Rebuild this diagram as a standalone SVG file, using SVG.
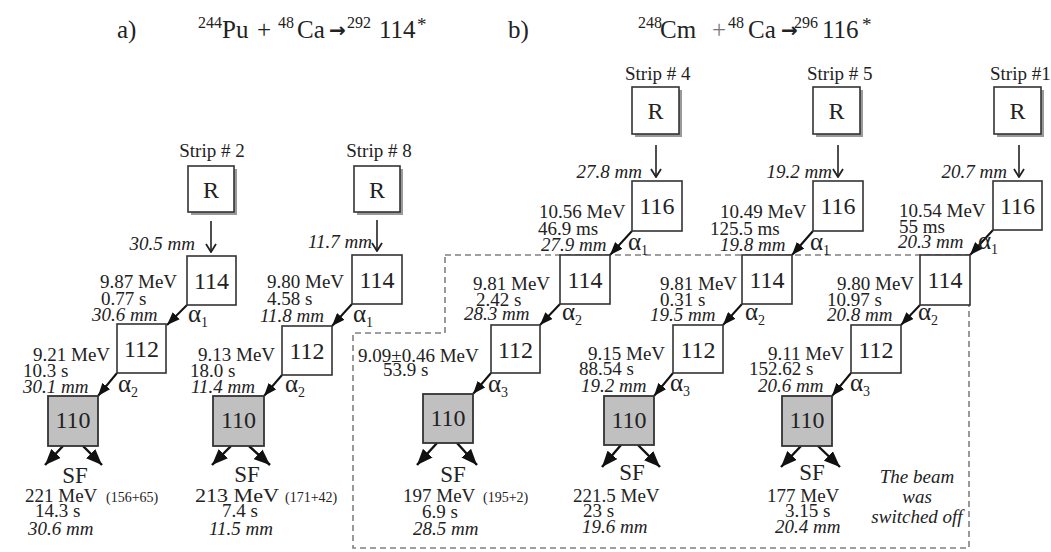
<svg xmlns="http://www.w3.org/2000/svg" width="1051" height="552" viewBox="0 0 1051 552">
<defs>
<style>
text{font-family:"Liberation Serif","Times New Roman",serif;fill:#222}
.t{font-size:19px}
.i{font-size:19px;font-style:italic}
.sm{font-size:14px}
.n{font-size:24px;text-anchor:middle}
.sf{font-size:23px;text-anchor:middle}
.ttl{font-size:25px}
.sup{font-size:16px}
.arr{font-family:"DejaVu Sans",sans-serif;font-size:20px;font-weight:bold}
.al{font-size:25px}
.sub{font-size:14px}
.box{fill:#fff;stroke:#333;stroke-width:1.6}
.gbox{fill:#c0c0c0;stroke:#333;stroke-width:1.8}
.shadow{fill:#9a9a9a}
.va{stroke:#222;stroke-width:1.6;fill:none;marker-end:url(#chev)}
.da{stroke:#111;stroke-width:2;fill:none;marker-end:url(#ah)}
.sfa{stroke:#111;stroke-width:2.4;fill:none;marker-end:url(#ah2)}
.dash{fill:none;stroke:#808080;stroke-width:1.6;stroke-dasharray:6 4}
.c{text-anchor:middle}
</style>
<marker id="chev" viewBox="0 0 10 12" refX="9" refY="6" markerWidth="10" markerHeight="12" orient="auto" markerUnits="userSpaceOnUse"><path d="M1,1 L9,6 L1,11" fill="none" stroke="#222" stroke-width="1.8"/></marker>
<marker id="ah" viewBox="0 0 13 10" refX="13" refY="5" markerWidth="13" markerHeight="10" orient="auto" markerUnits="userSpaceOnUse"><path d="M0,0 L13,5 L0,10 Z" fill="#111"/></marker>
<marker id="ah2" viewBox="0 0 16 13" refX="16" refY="6.5" markerWidth="16" markerHeight="13" orient="auto" markerUnits="userSpaceOnUse"><path d="M0,0 L16,6.5 L0,13 Z" fill="#111"/></marker>
</defs>
<rect width="1051" height="552" fill="#fff"/>

<g id="titles">
<text class="ttl" x="117" y="38">a)</text>
<text class="ttl" y="38"><tspan class="sup" x="198" y="28">244</tspan><tspan x="222" y="38">Pu</tspan><tspan x="257" y="38">+</tspan><tspan class="sup" x="278" y="28">48</tspan><tspan x="297" y="38">Ca</tspan><tspan class="arr" x="329" y="37">→</tspan><tspan class="sup" x="347" y="28">292</tspan><tspan x="379" y="38">114</tspan><tspan x="417" y="31" style="font-size:19px">*</tspan></text>
<text class="ttl" x="508" y="38">b)</text>
<text class="ttl" y="38"><tspan class="sup" x="638" y="28">248</tspan><tspan x="660" y="38">Cm</tspan><tspan x="712" y="38" style="fill:#777">+</tspan><tspan class="sup" x="728" y="28">48</tspan><tspan x="748" y="38">Ca</tspan><tspan class="arr" x="781" y="37">→</tspan><tspan class="sup" x="794" y="28">296</tspan><tspan x="822" y="38">116</tspan><tspan x="862" y="31" style="font-size:19px">*</tspan></text>
</g>

<g id="beam-off-region">
<path class="dash" d="M445,255 H969 V548 H353 V333 H445 Z"/>
<text class="i c" x="917" y="483">The beam</text>
<text class="i c" x="917" y="503">was</text>
<text class="i c" x="917" y="523">switched off</text>
</g>

<g id="connectors">
<!-- chain a1 -->
<line class="va" x1="211" y1="221" x2="211" y2="252"/>
<line class="da" x1="187" y1="305" x2="167" y2="325"/>
<line class="da" x1="117" y1="373" x2="98" y2="396"/>
<line class="sfa" x1="63" y1="446" x2="45" y2="465"/>
<line class="sfa" x1="83" y1="446" x2="102" y2="465"/>
<!-- chain a2 -->
<line class="va" x1="377" y1="220" x2="377" y2="251"/>
<line class="da" x1="352" y1="304" x2="332" y2="326"/>
<line class="da" x1="282" y1="375" x2="264" y2="396"/>
<line class="sfa" x1="231" y1="446" x2="212" y2="465"/>
<line class="sfa" x1="249" y1="446" x2="270" y2="465"/>
<!-- chain b1 -->
<line class="va" x1="656" y1="145" x2="656" y2="177"/>
<line class="da" x1="632" y1="231" x2="610" y2="255"/>
<line class="da" x1="560" y1="304" x2="540" y2="325"/>
<line class="da" x1="491" y1="373" x2="473" y2="394"/>
<line class="sfa" x1="437" y1="443" x2="417" y2="465"/>
<line class="sfa" x1="457" y1="443" x2="477" y2="465"/>
<!-- chain b2 -->
<line class="va" x1="838" y1="145" x2="838" y2="177"/>
<line class="da" x1="813" y1="231" x2="792" y2="255"/>
<line class="da" x1="742" y1="304" x2="723" y2="325"/>
<line class="da" x1="673" y1="373" x2="654" y2="396"/>
<line class="sfa" x1="621" y1="445" x2="602" y2="467"/>
<line class="sfa" x1="638" y1="445" x2="660" y2="467"/>
<!-- chain b3 -->
<line class="va" x1="1019" y1="145" x2="1019" y2="177"/>
<line class="da" x1="993" y1="230" x2="970" y2="255"/>
<line class="da" x1="920" y1="305" x2="901" y2="325"/>
<line class="da" x1="851" y1="373" x2="832" y2="396"/>
<line class="sfa" x1="801" y1="446" x2="781" y2="467"/>
<line class="sfa" x1="818" y1="446" x2="840" y2="467"/>
</g>

<!-- ===== chain a1 (Strip # 2) ===== -->
<g id="a1-R">
<text class="t c" x="212" y="157">Strip # 2</text>
<rect class="shadow" x="191" y="169" width="46" height="46"/>
<rect class="box" x="188" y="166" width="46" height="46"/>
<text class="n" x="211" y="198">R</text>
<text class="i" x="195" y="250" text-anchor="end">30.5 mm</text>
</g>
<g id="a1-114">
<rect class="box" x="187" y="256" width="49" height="49"/>
<text class="n" x="211.5" y="289">114</text>
<text class="t" x="100" y="288">9.87 MeV</text>
<text class="t" x="101" y="305">0.77 s</text>
<text class="i" x="92" y="321">30.6 mm</text>
<text class="al" x="188" y="322">α<tspan class="sub" dy="5">1</tspan></text>
</g>
<g id="a1-112">
<rect class="box" x="117" y="324" width="49" height="49"/>
<text class="n" x="141.5" y="357">112</text>
<text class="t" x="33" y="361">9.21 MeV</text>
<text class="t" x="23" y="377">10.3 s</text>
<text class="i" x="23" y="393">30.1 mm</text>
<text class="al" x="118" y="392">α<tspan class="sub" dy="5">2</tspan></text>
</g>
<g id="a1-110">
<rect class="gbox" x="48" y="396" width="50" height="50"/>
<text class="n" x="73" y="428">110</text>
<text class="sf" x="75" y="483">SF</text>
<text class="t" x="25" y="502">221 MeV<tspan class="sm" x="106">(156+65)</tspan></text>
<text class="t" x="35" y="517">14.3 s</text>
<text class="i" x="28" y="535">30.6 mm</text>
</g>

<!-- ===== chain a2 (Strip # 8) ===== -->
<g id="a2-R">
<text class="t c" x="379" y="157">Strip # 8</text>
<rect class="shadow" x="357" y="169" width="46" height="46"/>
<rect class="box" x="354" y="166" width="46" height="46"/>
<text class="n" x="377" y="198">R</text>
<text class="i" x="372" y="248" text-anchor="end">11.7 mm</text>
</g>
<g id="a2-114">
<rect class="box" x="352" y="255" width="50" height="49"/>
<text class="n" x="377" y="288">114</text>
<text class="t" x="267" y="288">9.80 MeV</text>
<text class="t" x="267" y="305">4.58 s</text>
<text class="i" x="260" y="322">11.8 mm</text>
<text class="al" x="353" y="322">α<tspan class="sub" dy="5">1</tspan></text>
</g>
<g id="a2-112">
<rect class="box" x="282" y="326" width="50" height="49"/>
<text class="n" x="307" y="359">112</text>
<text class="t" x="198" y="361">9.13 MeV</text>
<text class="t" x="190" y="377">18.0 s</text>
<text class="i" x="191" y="393">11.4 mm</text>
<text class="al" x="285" y="392">α<tspan class="sub" dy="5">2</tspan></text>
</g>
<g id="a2-110">
<rect class="gbox" x="213" y="396" width="51" height="50"/>
<text class="n" x="238.5" y="428">110</text>
<text class="sf" x="247" y="482">SF</text>
<text class="t" x="195" y="502" textLength="84" lengthAdjust="spacingAndGlyphs">213 MeV</text>
<text class="sm" x="285" y="502">(171+42)</text>
<text class="t" x="222" y="517">7.4 s</text>
<text class="i" x="209" y="535">11.5 mm</text>
</g>

<!-- ===== chain b1 (Strip # 4) ===== -->
<g id="b1-R">
<text class="t" x="625" y="80">Strip # 4</text>
<rect class="shadow" x="635" y="90" width="47" height="47"/>
<rect class="box" x="632" y="87" width="47" height="47"/>
<text class="n" x="655.5" y="119">R</text>
<text class="i" x="642" y="178" text-anchor="end">27.8 mm</text>
</g>
<g id="b1-116">
<rect class="box" x="632" y="181" width="50" height="50"/>
<text class="n" x="657" y="214">116</text>
<text class="t" x="539" y="218">10.56 MeV</text>
<text class="t" x="538" y="235">46.9 ms</text>
<text class="i" x="541" y="251">27.9 mm</text>
<text class="al" x="628" y="250">α<tspan class="sub" dy="5">1</tspan></text>
</g>
<g id="b1-114">
<rect class="box" x="560" y="255" width="50" height="49"/>
<text class="n" x="585" y="288">114</text>
<text class="t" x="473" y="290">9.81 MeV</text>
<text class="t" x="476" y="306">2.42 s</text>
<text class="i" x="464" y="320">28.3 mm</text>
<text class="al" x="562" y="320">α<tspan class="sub" dy="5">2</tspan></text>
</g>
<g id="b1-112">
<rect class="box" x="491" y="325" width="49" height="48"/>
<text class="n" x="515.5" y="358">112</text>
<text class="t" x="358" y="362">9.09±0.46 MeV</text>
<text class="t" x="383" y="376">53.9 s</text>
<text class="al" x="488" y="392">α<tspan class="sub" dy="5">3</tspan></text>
</g>
<g id="b1-110">
<rect class="gbox" x="423" y="394" width="50" height="49"/>
<text class="n" x="448" y="426">110</text>
<text class="sf" x="453" y="482">SF</text>
<text class="t" x="403" y="502">197 MeV<tspan class="sm" x="483">(195+2)</tspan></text>
<text class="t" x="422" y="518">6.9 s</text>
<text class="i" x="413" y="535">28.5 mm</text>
</g>

<!-- ===== chain b2 (Strip # 5) ===== -->
<g id="b2-R">
<text class="t" x="807" y="80">Strip # 5</text>
<rect class="shadow" x="816" y="90" width="47" height="47"/>
<rect class="box" x="813" y="87" width="47" height="47"/>
<text class="n" x="836.5" y="119">R</text>
<text class="i" x="832" y="178" text-anchor="end">19.2 mm</text>
</g>
<g id="b2-116">
<rect class="box" x="813" y="181" width="50" height="50"/>
<text class="n" x="838" y="214">116</text>
<text class="t" x="720" y="218">10.49 MeV</text>
<text class="t" x="710" y="235">125.5 ms</text>
<text class="i" x="720" y="251">19.8 mm</text>
<text class="al" x="810" y="250">α<tspan class="sub" dy="5">1</tspan></text>
</g>
<g id="b2-114">
<rect class="box" x="742" y="255" width="50" height="49"/>
<text class="n" x="767" y="288">114</text>
<text class="t" x="660" y="290">9.81 MeV</text>
<text class="t" x="660" y="306">0.31 s</text>
<text class="i" x="650" y="321">19.5 mm</text>
<text class="al" x="745" y="320">α<tspan class="sub" dy="5">2</tspan></text>
</g>
<g id="b2-112">
<rect class="box" x="673" y="325" width="50" height="48"/>
<text class="n" x="698" y="358">112</text>
<text class="t" x="588" y="360">9.15 MeV</text>
<text class="t" x="579" y="375">88.54 s</text>
<text class="i" x="581" y="392">19.2 mm</text>
<text class="al" x="670" y="391">α<tspan class="sub" dy="5">3</tspan></text>
</g>
<g id="b2-110">
<rect class="gbox" x="604" y="396" width="50" height="49"/>
<text class="n" x="629" y="428">110</text>
<text class="sf" x="632" y="480">SF</text>
<text class="t" x="573" y="502">221.5 MeV</text>
<text class="t" x="583" y="517">23 s</text>
<text class="i" x="582" y="533">19.6 mm</text>
</g>

<!-- ===== chain b3 (Strip #1) ===== -->
<g id="b3-R">
<text class="t" x="990" y="80">Strip #1</text>
<rect class="shadow" x="997" y="90" width="47" height="47"/>
<rect class="box" x="994" y="87" width="47" height="47"/>
<text class="n" x="1017.5" y="119">R</text>
<text class="i" x="1007" y="178" text-anchor="end">20.7 mm</text>
</g>
<g id="b3-116">
<rect class="box" x="993" y="181" width="49" height="49"/>
<text class="n" x="1017.5" y="214">116</text>
<text class="t" x="899" y="217">10.54 MeV</text>
<text class="t" x="899" y="233">55 ms</text>
<text class="i" x="898" y="248">20.3 mm</text>
<text class="al" x="978" y="249">α<tspan class="sub" dy="5">1</tspan></text>
</g>
<g id="b3-114">
<rect class="box" x="920" y="255" width="50" height="50"/>
<text class="n" x="945" y="288">114</text>
<text class="t" x="837" y="290">9.80 MeV</text>
<text class="t" x="827" y="306">10.97 s</text>
<text class="i" x="827" y="321">20.8 mm</text>
<text class="al" x="918" y="320">α<tspan class="sub" dy="5">2</tspan></text>
</g>
<g id="b3-112">
<rect class="box" x="851" y="325" width="50" height="48"/>
<text class="n" x="876" y="358">112</text>
<text class="t" x="768" y="360">9.11 MeV</text>
<text class="t" x="749" y="375">152.62 s</text>
<text class="i" x="758" y="392">20.6 mm</text>
<text class="al" x="850" y="391">α<tspan class="sub" dy="5">3</tspan></text>
</g>
<g id="b3-110">
<rect class="gbox" x="782" y="396" width="50" height="50"/>
<text class="n" x="807" y="428">110</text>
<text class="sf" x="812" y="480">SF</text>
<text class="t" x="767" y="502">177 MeV</text>
<text class="t" x="785" y="517">3.15 s</text>
<text class="i" x="775" y="533">20.4 mm</text>
</g>
</svg>
